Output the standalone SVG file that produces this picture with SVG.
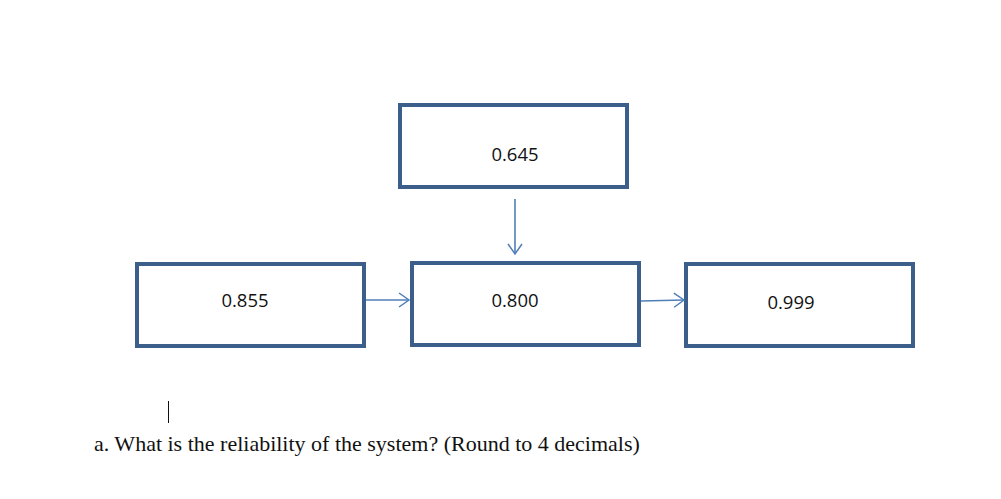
<svg xmlns="http://www.w3.org/2000/svg" width="1001" height="499" viewBox="0 0 1001 499">
<style>
.box{fill:#fff;stroke:#3B5E8A;stroke-width:4}
.lbl{font-family:"Open Sans","Liberation Sans",sans-serif;font-size:18.5px;fill:#111;text-anchor:middle}
.conn{stroke:#4F7FB8;stroke-width:1.6;fill:none}
.q{font-family:"Liberation Serif",serif;font-size:22px;fill:#111}
</style>
<defs>
<marker id="ah" markerWidth="14" markerHeight="16" refX="11" refY="8" orient="auto" markerUnits="userSpaceOnUse">
<path d="M1,1 L11,8 L1,15" fill="none" stroke="#4F7FB8" stroke-width="1.5"/>
</marker>
</defs>
<rect width="1001" height="499" fill="#fff"/>
<g id="n645"><rect class="box" x="400" y="105" width="227" height="82"/><text class="lbl" x="515" y="161">0.645</text></g>
<g id="n855"><rect class="box" x="137" y="264" width="227" height="82"/><text class="lbl" x="245" y="307">0.855</text></g>
<g id="n800"><rect class="box" x="412" y="263" width="227" height="82"/><text class="lbl" x="515" y="307">0.800</text></g>
<g id="n999"><rect class="box" x="686" y="264" width="227" height="82"/><text class="lbl" x="791" y="309">0.999</text></g>
<g id="connectors">
<line class="conn" x1="515" y1="199" x2="515" y2="254" marker-end="url(#ah)"/>
<line class="conn" x1="366" y1="300" x2="409" y2="300" marker-end="url(#ah)"/>
<line class="conn" x1="641" y1="301" x2="684" y2="300" marker-end="url(#ah)"/>
</g>
<line x1="168.5" y1="401" x2="168.5" y2="423" stroke="#111" stroke-width="1"/>
<text class="q" x="94" y="451">a. What is the reliability of the system? (Round to 4 decimals)</text>
</svg>
